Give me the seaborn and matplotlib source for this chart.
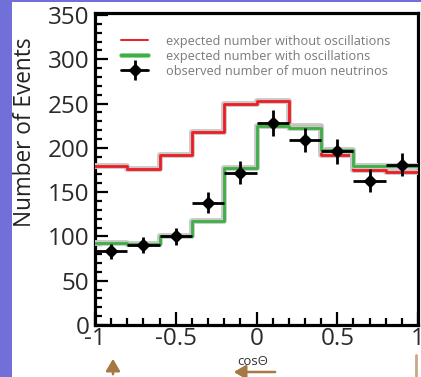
import matplotlib
matplotlib.use("Agg")
import matplotlib.pyplot as plt
import matplotlib.patheffects as pe
from matplotlib.patches import Rectangle, FancyArrowPatch
from matplotlib.lines import Line2D
from matplotlib.ticker import MultipleLocator
import seaborn as sns

# cos(theta) bins and event counts
bin_edges = [-1.0, -0.8, -0.6, -0.4, -0.2, 0.0, 0.2, 0.4, 0.6, 0.8, 1.0]
bin_centres = [-0.9, -0.7, -0.5, -0.3, -0.1, 0.1, 0.3, 0.5, 0.7, 0.9]
no_osc = [179, 176, 192, 218, 250, 253, 225, 192, 175, 173]
with_osc = [93, 91, 101, 117, 177, 225, 222, 198, 180, 180]
observed = [83, 90, 100, 138, 172, 228, 209, 196, 163, 181]
obs_err = [9, 9, 10, 12, 13, 15, 14, 14, 13, 13]
bin_half = [0.1] * 10

x_ticks = [-1, -0.5, 0, 0.5, 1]
x_ticklabels = ["-1", "-0.5", "0", "0.5", "1"]
labels = [
    "expected number without oscillations",
    "expected number with oscillations",
    "observed number of muon neutrinos",
]

sns.set_style("ticks")
plt.rcParams["font.family"] = ["Open Sans", "DejaVu Sans"]

W, H = 421, 377
fig = plt.figure(figsize=(W / 100, H / 100), dpi=100)
fig.patch.set_facecolor("#7070d8")
fig.patches.append(Rectangle((12 / W, 0), 1, 1 - 2 / H, transform=fig.transFigure,
                             facecolor="white", edgecolor="none", zorder=-5))

ax = fig.add_axes([95 / W, 1 - 325 / H, 323 / W, 312 / H])
ax.set_facecolor("white")

halo = [pe.Stroke(linewidth=4.2, foreground="#c8c8c8"), pe.Normal()]
sns.histplot(x=bin_centres, weights=no_osc, bins=bin_edges, element="step", fill=False,
             color="#ee1c24", linewidth=2.0, ax=ax, path_effects=halo, zorder=3)
sns.histplot(x=bin_centres, weights=with_osc, bins=bin_edges, element="step", fill=False,
             color="#3cb043", linewidth=2.0, ax=ax, path_effects=halo, zorder=3)
ax.errorbar(bin_centres, observed, yerr=obs_err, xerr=bin_half, fmt="D", color="black",
            markersize=6, elinewidth=2.0, capsize=0, zorder=4)

ax.set_xlim(-1, 1)
ax.set_ylim(0, 352.3)
ax.set_xlabel("")
ax.set_ylabel("Number of Events", fontsize=16.3, color="#222222")
ax.yaxis.set_label_coords(-0.18, 0.617)
ax.set_xticks(x_ticks, x_ticklabels)
ax.xaxis.set_minor_locator(MultipleLocator(0.1))
ax.yaxis.set_major_locator(MultipleLocator(50))
ax.yaxis.set_minor_locator(MultipleLocator(10))
ax.tick_params(which="both", direction="in", width=1.6, color="black")
ax.tick_params(which="major", length=9.5, labelsize=17.5, pad=4, labelcolor="#2a2a2a")
ax.tick_params(axis="x", which="major", pad=1.5)
ax.tick_params(which="minor", length=5)
for s in ax.spines.values():
    s.set_linewidth(2.3)
    s.set_color("black")
    s.set_visible(True)

ax.text(0.489, -0.118, "cos\u0398", transform=ax.transAxes, ha="center", va="center",
        fontsize=9.5, color="#333333")

obs_handle = (
    Line2D([], [], color="black", marker="D", markersize=6, linewidth=2.0),
    Line2D([], [], color="black", marker="|", markersize=15, markeredgewidth=2.0,
           linestyle="none"),
)
handles = [
    Line2D([], [], color="#ee1c24", linewidth=1.4),
    Line2D([], [], color="#3cb043", linewidth=2.5,
           path_effects=[pe.Stroke(linewidth=3.5, foreground="#a8d8a8"), pe.Normal()]),
    obs_handle,
]
leg = ax.legend(handles, labels, loc="upper left", bbox_to_anchor=(0.082, 0.93),
                frameon=False, fontsize=9.2, handlelength=2.1, handletextpad=1.4,
                labelspacing=0.15, borderpad=0, borderaxespad=0)
for t in leg.get_texts():
    t.set_color("#7a7a7a")

# decorative arrows below the axis
arr = dict(arrowstyle="-|>,head_width=0.35,head_length=0.6", color="#a57844", linewidth=1.8)
fig.add_artist(FancyArrowPatch((113 / W, 0), (113 / W, 1 - 356 / H),
               transform=fig.transFigure, mutation_scale=12, **arr))
fig.add_artist(FancyArrowPatch((278 / W, 1 - 372 / H), (231 / W, 1 - 372 / H),
               transform=fig.transFigure, mutation_scale=12, **arr))
fig.add_artist(Line2D([416 / W, 416 / W], [0, 1 - 355 / H], transform=fig.transFigure,
                      color="#c9a98a", linewidth=2))

fig.savefig("out.png", dpi=100)
